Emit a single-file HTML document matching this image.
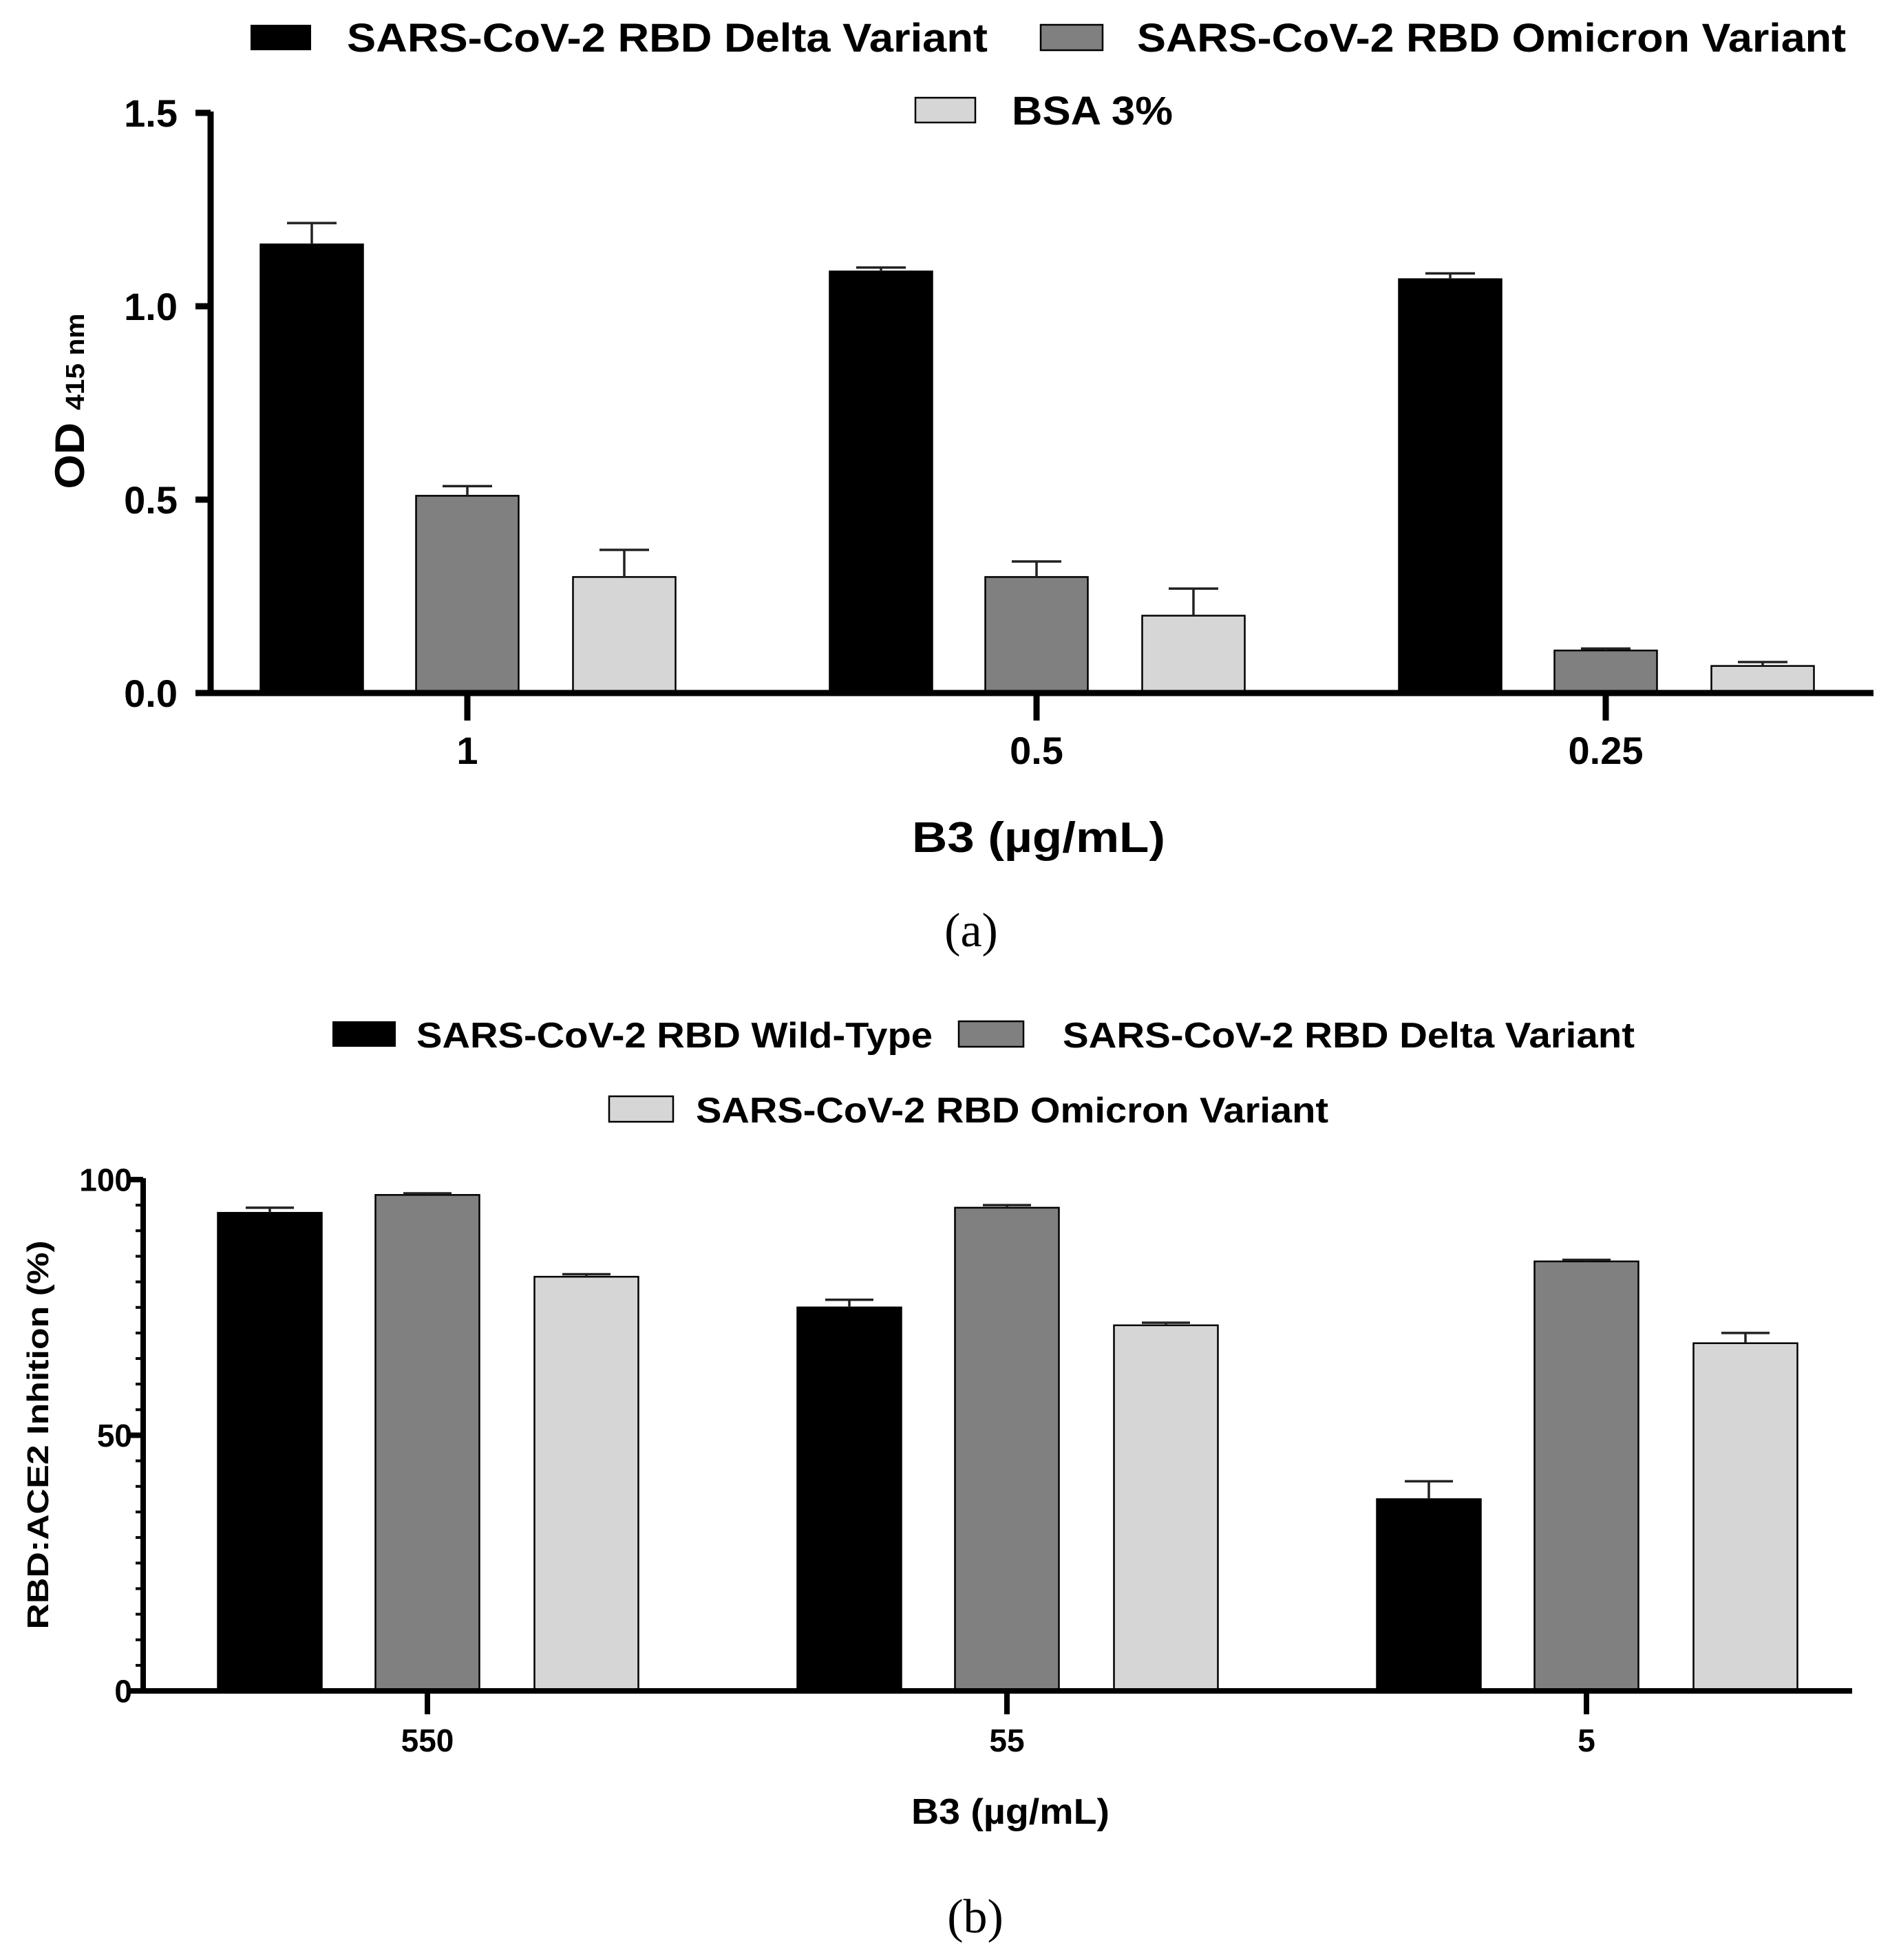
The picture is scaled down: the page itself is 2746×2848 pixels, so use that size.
<!DOCTYPE html>
<html><head><meta charset="utf-8"><style>
html,body{margin:0;padding:0;background:#fff}
svg{display:block}
text{font-family:"Liberation Sans Narrow","Liberation Sans",sans-serif;font-weight:bold;fill:#000}
.serif{font-family:"Liberation Serif",serif;font-weight:normal}
.wide{font-family:"Liberation Sans",sans-serif}
</style></head><body>
<svg id="fig" width="2746" height="2848" viewBox="0 0 2746 2848" xmlns="http://www.w3.org/2000/svg">
<g id="chartA"></g>
<g id="chartB"></g>
</svg>
<script>
// Chart (a) data
const catsA = ["1","0.5","0.25"];
const deltaA = [1.16,1.09,1.07];
const deltaErrA = [0.055,0.01,0.015];
const omiA = [0.51,0.30,0.11];
const omiErrA = [0.025,0.04,0.005];
const bsaA = [0.30,0.20,0.07];
const bsaErrA = [0.07,0.07,0.01];
const ticksA = ["0.0","0.5","1.0","1.5"];
const tickValsA = [0,0.5,1.0,1.5];
// Chart (b) data
const catsB = ["550","55","5"];
const wtB = [93.5,75,37.5];
const wtErrB = [1,1.5,3.5];
const deltaB = [97,94.5,84];
const deltaErrB = [0.3,0.5,0.3];
const omiB = [81,71.5,68];
const omiErrB = [0.5,0.5,2];
const ticksB = ["0","50","100"];
const tickValsB = [0,50,100];

const NS="http://www.w3.org/2000/svg";
function mk(parent,tag,attrs,txt){const e=document.createElementNS(NS,tag);for(const k in attrs)e.setAttribute(k,attrs[k]);if(txt!==undefined)e.textContent=txt;parent.appendChild(e);return e;}

function drawChart(g,cfg){
  const y=v=>cfg.y0-(v-cfg.vmin)/(cfg.vmax-cfg.vmin)*(cfg.y0-cfg.y1);
  const x=i=>cfg.cx[0]+i*(cfg.cx[1]-cfg.cx[0]);
  cfg.series.forEach((s,si)=>{
    s.vals.forEach((v,i)=>{
      const cx=x(i)+cfg.offs[si];
      const r=mk(g,'rect',{x:cx-cfg.bw/2,y:y(v),width:cfg.bw,height:y(0)-y(v),fill:s.fill,stroke:'#000','stroke-width':2.5});
      
      
      const top=y(v+s.err[i]);
      const e=mk(g,'path',{d:`M${cx} ${y(v)} V${top} M${cx-cfg.cap/2} ${top} H${cx+cfg.cap/2}`,stroke:'#222','stroke-width':3.5,fill:'none'});
      
      
    });
  });
  const ax=mk(g,'path',{d:`M${cfg.ax} ${cfg.y1-2} V${cfg.y0} H${cfg.axEnd}`,stroke:'#000','stroke-width':cfg.aw,fill:'none'});
  
  
  cfg.tickVals.forEach((v,i)=>{
    mk(g,'line',{x1:cfg.ax-cfg.tl,x2:cfg.ax,y1:y(v),y2:y(v),stroke:'#000','stroke-width':cfg.aw});
    const t=mk(g,'text',{x:cfg.tlx,y:y(v)+cfg.tfs*0.36,'text-anchor':'end','font-size':cfg.tfs},cfg.ticks[i]);
    
    
  });
  if(cfg.minor){for(let v=cfg.vmin;v<=cfg.vmax;v+=cfg.minor){mk(g,'line',{x1:cfg.ax-cfg.tl*0.55,x2:cfg.ax,y1:y(v),y2:y(v),stroke:'#000','stroke-width':4});}}
  cfg.cats.forEach((c,i)=>{
    mk(g,'line',{x1:x(i),x2:x(i),y1:cfg.y0,y2:cfg.y0+cfg.xtl,stroke:'#000','stroke-width':cfg.aw});
    const t=mk(g,'text',{x:x(i),y:cfg.xly,'text-anchor':'middle','font-size':cfg.tfs},c);
    
    
  });
}

const A=document.getElementById('chartA');
drawChart(A,{y0:1007,y1:164,vmin:0,vmax:1.5,cx:[679,1506],offs:[-226,0,228],bw:149,cap:72,ax:306,axEnd:2722,aw:9,tl:22,tlx:258,tfs:56,xtl:40,xly:1110,cats:catsA,ticks:ticksA,tickVals:tickValsA,
 series:[{key:'delta',vals:deltaA,err:deltaErrA,fill:'#000'},{key:'omicron',vals:omiA,err:omiErrA,fill:'#808080'},{key:'bsa',vals:bsaA,err:bsaErrA,fill:'#d6d6d6'}]});
const B=document.getElementById('chartB');
drawChart(B,{y0:2457,y1:1714,vmin:0,vmax:100,cx:[621,1463],offs:[-229,0,231],bw:151,cap:70,ax:208,axEnd:2691,aw:8,tl:20,tlx:192,tfs:46,xtl:34,xly:2545,minor:5,cats:catsB,ticks:ticksB,tickVals:tickValsB,
 series:[{key:'wildtype',vals:wtB,err:wtErrB,fill:'#000'},{key:'delta',vals:deltaB,err:deltaErrB,fill:'#808080'},{key:'omicron',vals:omiB,err:omiErrB,fill:'#d6d6d6'}]});
</script>
<svg style="position:absolute;left:0;top:0" width="2746" height="2848" viewBox="0 0 2746 2848" xmlns="http://www.w3.org/2000/svg">
<g>
<rect x="364" y="36" width="88" height="37" fill="#000"/>
<text x="504" y="75" font-size="58" textLength="931" lengthAdjust="spacingAndGlyphs">SARS-CoV-2 RBD Delta Variant</text>
<rect x="1512" y="36" width="90" height="37" fill="#808080" stroke="#000" stroke-width="2.5"/>
<text x="1652" y="75" font-size="58" textLength="1030" lengthAdjust="spacingAndGlyphs">SARS-CoV-2 RBD Omicron Variant</text>
<rect x="1330" y="142" width="87" height="36" fill="#d6d6d6" stroke="#000" stroke-width="2.5"/>
<text x="1470" y="181" font-size="58" textLength="234" lengthAdjust="spacingAndGlyphs">BSA 3%</text>
</g>
<text class="wide" transform="translate(122,583) rotate(-90)" text-anchor="middle" font-size="60" textLength="255" lengthAdjust="spacingAndGlyphs">OD <tspan font-size="38">415 nm</tspan></text>
<text x="1509" y="1238" text-anchor="middle" font-size="62" textLength="368" lengthAdjust="spacingAndGlyphs">B3 (µg/mL)</text>
<text class="serif" x="1411" y="1375" text-anchor="middle" font-size="70">(a)</text>
<g>
<rect x="483" y="1484" width="92" height="37" fill="#000"/>
<text x="605" y="1522" font-size="52" textLength="750" lengthAdjust="spacingAndGlyphs">SARS-CoV-2 RBD Wild-Type</text>
<rect x="1393" y="1484" width="94" height="37" fill="#808080" stroke="#000" stroke-width="2.5"/>
<text x="1544" y="1522" font-size="52" textLength="831" lengthAdjust="spacingAndGlyphs">SARS-CoV-2 RBD Delta Variant</text>
<rect x="885" y="1593" width="93" height="37" fill="#d6d6d6" stroke="#000" stroke-width="2.5"/>
<text x="1011" y="1631" font-size="52" textLength="919" lengthAdjust="spacingAndGlyphs">SARS-CoV-2 RBD Omicron Variant</text>
</g>
<text class="wide" transform="translate(70,2085) rotate(-90)" text-anchor="middle" font-size="44" textLength="565" lengthAdjust="spacingAndGlyphs">RBD:ACE2 Inhition (%)</text>
<text x="1468" y="2650" text-anchor="middle" font-size="52" textLength="288" lengthAdjust="spacingAndGlyphs">B3 (µg/mL)</text>
<text class="serif" x="1417" y="2808" text-anchor="middle" font-size="70">(b)</text>
</svg>
</body></html>
